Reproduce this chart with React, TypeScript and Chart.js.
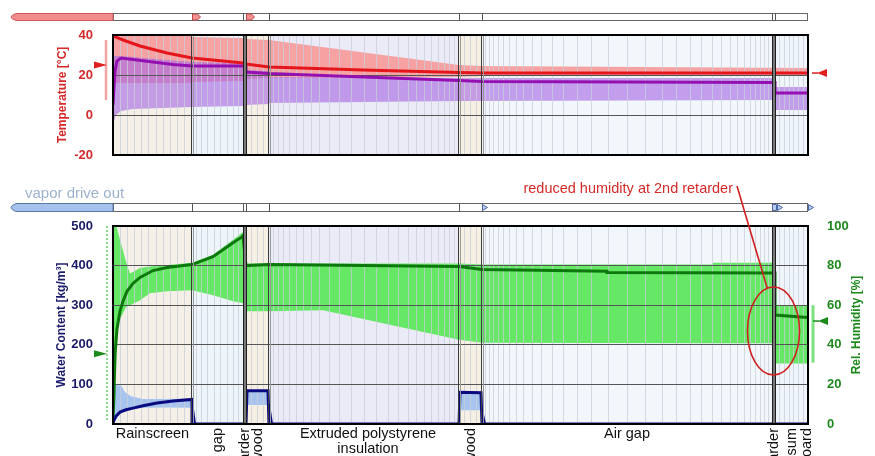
import React, { useEffect, useRef } from 'react';
import { Chart, registerables } from 'chart.js';

Chart.register(...registerables);

const FONT = 'Arial, "Liberation Sans", Helvetica, sans-serif';

// ---------- wall layers (x = position through the wall) ----------
const layerNames = ['Rainscreen', 'Air gap', 'retarder', 'plywood', 'Extruded polystyrene insulation', 'plywood', 'Air gap', 'retarder', 'Gypsum board'];
const layerEdges = [0, 79, 130, 133, 156, 346, 369, 659, 662, 695];
const layerFills = ['#f4f0e8', '#eef5fa', '#707070', '#f6f0e4', '#ebebf7', '#f6f0e4', '#f1f7fb', '#707070', '#eff5fa'];
const layerLabelLines = [['Rainscreen'], ['Air gap'], ['retarder'], ['plywood'], ['Extruded polystyrene', 'insulation'], ['plywood'], ['Air gap'], ['retarder'], ['Gypsum', 'board']];
const layerLabelRotated = [false, true, true, true, false, true, false, true, true];
const meshCounts = [11, 9, 1, 4, 24, 4, 32, 1, 7];
const meshRatios = [1, 1.1, 1, 1, 1.1, 1, 1.12, 1, 1];

// ---------- temperature plot ----------
const tempTicks = [-20, 40, 20];
const tempLineX = [0, 10, 27, 54, 79, 105, 130, 133, 156, 250, 346, 369, 500, 659, 662, 695];
const tempLine = [39.5, 37.5, 34.5, 31, 28.5, 27.2, 26, 25.5, 24, 22.5, 21.2, 21, 21, 21, 21, 21];
const tempRangeX = [0, 79, 79, 130, 133, 156, 346, 369, 695];
const tempRangeHigh = [40, 40, 39, 38.5, 38, 37.5, 25, 24.5, 23.5];
const tempRangeLow = [16, 16, 16.5, 17, 18, 18.5, 19, 19.5, 19.5];
const dewRangeX = [0, 1, 3, 8, 20, 79, 130, 133, 156, 156, 346, 369, 662, 662, 695];
const dewRangeHigh = [29.5, 29.5, 29.5, 29.5, 29, 26.5, 26, 22.5, 22, 19, 18.5, 18.5, 18.5, 14, 14];
const dewRangeLow = [-6, -3, 0, 2, 3, 4, 4.5, 5, 5.5, 6, 7, 7, 7.5, 2.5, 2.5];
const dewLineX = [0, 1, 2, 4, 8, 20, 40, 60, 79, 130, 133, 133, 156, 346, 369, 659, 662, 662, 695];
const dewLine = [5, 14, 22, 27, 28.5, 27.8, 26.5, 25.2, 24.5, 24.5, 24.5, 21.5, 20.8, 17.2, 16.8, 16.2, 16.2, 11, 11];
const tempLeftRange = [37.5, 7.5];
const tempLeftMark = 25;
const tempRightMark = 21;

// ---------- moisture plot ----------
const wcTicks = [0, 500, 100];
const rhTicks = [0, 100, 20];
const wcLineX = [0, 1, 3, 7, 13, 20, 30, 44, 60, 79, 79, 80, 81.5, 133, 134, 155, 156, 157, 158.5, 346, 347, 368, 369, 370, 371.5, 695];
const wcLine = [2, 10, 20, 30, 36, 40, 46, 53, 58, 62, 0, 28, 0, 0, 84, 84, 0, 25, 0, 0, 80, 79, 0, 18, 0, 0];
const wcBandX = [0, 3, 8, 12, 18, 30, 79, 79, 133, 133, 156, 156, 346, 346, 369, 369, 695];
const wcBandHigh = [98, 98, 98, 80, 70, 63, 64, 0, 0, 84, 84, 0, 0, 80, 80, 0, 0];
const wcBandLow = [0, 10, 30, 35, 38, 41, 42, 0, 0, 48, 48, 0, 0, 35, 35, 0, 0];
const rhLineX = [0, 1, 2, 4, 7, 10, 14, 20, 27, 40, 54, 79, 100, 120, 129, 130, 133, 156, 346, 369, 494, 494, 659, 662, 662, 695];
const rhLine = [2, 15, 35, 48, 57, 62, 67, 71, 74, 77.5, 79, 80.5, 84.5, 91.5, 94.5, 95, 80, 80.5, 79.5, 78, 77.2, 76.5, 76.2, 76.2, 55, 53.8];
const rhBandX = [0, 3, 4, 6, 7, 13, 17, 27, 37, 54, 79, 100, 120, 130, 130, 156, 210, 346, 369, 600, 600, 662, 662, 695];
const rhBandHigh = [100, 100, 99, 95, 93, 82, 76, 78.8, 79.5, 80.3, 81.5, 85.5, 93, 97, 81, 81, 81, 81, 80.5, 80.5, 81.5, 81.5, 60, 60];
const rhBandLow = [25, 28, 45, 51, 53, 59, 60, 62.5, 66, 67, 67.5, 65, 62, 61, 57, 57, 57.5, 42.5, 41, 40.8, 40.8, 40.8, 30.6, 30.6];
const rhLeftRange = [100, 2];
const rhLeftMark = 35.5;
const rhRightRange = [60, 31];
const rhRightMark = 52;
const noteText = 'reduced humidity at 2nd retarder';
const noteX = 660.5;
const noteRH = 47;

// ---------- helpers ----------
const pts = (xs: number[], ys: number[]) => xs.map((x, i) => ({ x, y: ys[i] }));

function buildMesh(): number[] {
  const out: number[] = [];
  for (let i = 0; i < meshCounts.length; i++) {
    const a = layerEdges[i], b = layerEdges[i + 1], n = meshCounts[i], r = meshRatios[i];
    const w: number[] = [];
    for (let k = 0; k < n; k++) w.push(Math.pow(r, Math.min(k, n - 1 - k)));
    const s = w.reduce((p, q) => p + q, 0);
    let x = a;
    for (let k = 0; k < n - 1; k++) {
      x += ((b - a) * w[k]) / s;
      out.push(x);
    }
  }
  return out;
}
const meshTicks = buildMesh();

const px = (c: any, v: number) => c.scales.x.getPixelForValue(v);

function drawBackgrounds(chart: any) {
  const { ctx, chartArea: a } = chart;
  ctx.save();
  for (let i = 0; i < layerFills.length; i++) {
    const x0 = px(chart, layerEdges[i]);
    const x1 = px(chart, layerEdges[i + 1]);
    ctx.fillStyle = layerFills[i];
    ctx.fillRect(x0, a.top, x1 - x0, a.bottom - a.top);
  }
  ctx.restore();
}

function vline(ctx: any, x: number, y0: number, y1: number, color: string, w = 1) {
  ctx.strokeStyle = color;
  ctx.lineWidth = w;
  ctx.beginPath();
  ctx.moveTo(x, y0);
  ctx.lineTo(x, y1);
  ctx.stroke();
}

function drawFrame(chart: any) {
  const { ctx, chartArea: a } = chart;
  ctx.save();
  const isRet = (i: number) => layerNames[i] === 'retarder';
  for (let i = 1; i < layerEdges.length - 1; i++) {
    if (isRet(i - 1) || isRet(i)) continue;
    const x = Math.round(px(chart, layerEdges[i]));
    vline(ctx, x - 0.5, a.top, a.bottom, '#3c3c3c');
    vline(ctx, x + 1.5, a.top, a.bottom, '#9a9a9a');
  }
  for (let i = 0; i < layerNames.length; i++) {
    if (!isRet(i)) continue;
    const x0 = Math.round(px(chart, layerEdges[i]));
    const x1 = Math.round(px(chart, layerEdges[i + 1]));
    ctx.fillStyle = '#6a6a6a';
    ctx.fillRect(x0, a.top, x1 - x0 + 1, a.bottom - a.top);
    vline(ctx, x0 + 0.5, a.top, a.bottom, '#1e1e1e');
    vline(ctx, x1 + 0.5, a.top, a.bottom, '#1e1e1e');
    vline(ctx, (x0 + x1) / 2 + 0.5, a.top, a.bottom, '#8a8a8a');
  }
  ctx.strokeStyle = '#000';
  ctx.lineWidth = 2;
  ctx.strokeRect(a.left, a.top, a.right - a.left, a.bottom - a.top);
  ctx.restore();
}

function drawStrip(chart: any, top: number, h: number, barFill: string, barStroke: string, markers: { edge: number; kind: string }[], markFill: string, markStroke: string) {
  const { ctx, chartArea: a } = chart;
  ctx.save();
  ctx.fillStyle = '#fff';
  ctx.fillRect(a.left, top, a.right - a.left, h);
  ctx.strokeStyle = '#666';
  ctx.lineWidth = 1;
  ctx.strokeRect(a.left + 0.5, top + 0.5, a.right - a.left - 1, h - 1);
  for (let i = 1; i < layerEdges.length - 1; i++) {
    const x = Math.round(px(chart, layerEdges[i])) + 0.5;
    vline(ctx, x, top, top + h, '#555');
  }
  // left bar
  ctx.beginPath();
  ctx.moveTo(a.left, top + 0.5);
  ctx.lineTo(16, top + 0.5);
  ctx.quadraticCurveTo(6, top + h / 2, 16, top + h - 0.5);
  ctx.lineTo(a.left, top + h - 0.5);
  ctx.closePath();
  ctx.fillStyle = barFill;
  ctx.fill();
  ctx.strokeStyle = barStroke;
  ctx.stroke();
  for (const m of markers) {
    const x = Math.round(px(chart, layerEdges[m.edge])) + 0.5;
    ctx.beginPath();
    if (m.kind === 'pent') {
      ctx.moveTo(x, top + 1);
      ctx.lineTo(x + 5, top + 1);
      ctx.lineTo(x + 8, top + h / 2);
      ctx.lineTo(x + 5, top + h - 1);
      ctx.lineTo(x, top + h - 1);
    } else if (m.kind === 'tri') {
      ctx.moveTo(x, top + 1.5);
      ctx.lineTo(x + 5, top + h / 2);
      ctx.lineTo(x, top + h - 1.5);
    } else {
      ctx.moveTo(x, top + 1.5);
      ctx.lineTo(x + 4, top + 1.5);
      ctx.lineTo(x + 4, top + h - 1.5);
      ctx.lineTo(x, top + h - 1.5);
      ctx.closePath();
      ctx.moveTo(x + 5, top + 1.5);
      ctx.lineTo(x + 10, top + h / 2);
      ctx.lineTo(x + 5, top + h - 1.5);
    }
    ctx.closePath();
    ctx.fillStyle = markFill;
    ctx.fill();
    ctx.strokeStyle = markStroke;
    ctx.stroke();
  }
  ctx.restore();
}

function rotText(ctx: any, text: string, x: number, y: number, align: string) {
  ctx.save();
  ctx.translate(x, y);
  ctx.rotate(-Math.PI / 2);
  ctx.textAlign = align;
  ctx.textBaseline = 'middle';
  ctx.fillText(text, 0, 0);
  ctx.restore();
}

function arrowRight(ctx: any, tip: number, y: number, color: string) {
  ctx.fillStyle = color;
  ctx.beginPath();
  ctx.moveTo(tip, y);
  ctx.lineTo(tip - 13, y - 3.5);
  ctx.lineTo(tip - 13, y + 3.5);
  ctx.closePath();
  ctx.fill();
}

function arrowLeft(ctx: any, x: number, y: number, color: string) {
  ctx.strokeStyle = color;
  ctx.lineWidth = 1.5;
  ctx.beginPath();
  ctx.moveTo(x, y);
  ctx.lineTo(x + 6, y);
  ctx.stroke();
  ctx.fillStyle = color;
  ctx.beginPath();
  ctx.moveTo(x + 5, y);
  ctx.lineTo(x + 15, y - 4);
  ctx.lineTo(x + 15, y + 4);
  ctx.closePath();
  ctx.fill();
}

function gridBeforeLines(chart: any, args: any) {
  const ds = chart.data.datasets[args.index];
  if (ds && ds.gridBefore) {
    chart.scales.x.drawGrid(chart.chartArea);
    chart.scales.y.drawGrid(chart.chartArea);
  }
}

const topPlugin = {
  id: 'wallTop',
  beforeDatasetsDraw: drawBackgrounds,
  beforeDatasetDraw: gridBeforeLines,
  afterDraw(chart: any) {
    const { ctx, chartArea: a } = chart;
    drawFrame(chart);
    drawStrip(chart, 13, 8, '#f28b8b', '#d05a5a', [{ edge: 1, kind: 'pent' }, { edge: 3, kind: 'pent' }], '#f39090', '#c04848');
    const y = chart.scales.y;
    ctx.save();
    ctx.fillStyle = '#d42a2a';
    ctx.font = `bold 12px ${FONT}`;
    rotText(ctx, 'Temperature [°C]', 63, (a.top + a.bottom) / 2, 'center');
    ctx.strokeStyle = '#f4a2a2';
    ctx.lineWidth = 2.5;
    ctx.beginPath();
    ctx.moveTo(a.left - 7, y.getPixelForValue(tempLeftRange[0]));
    ctx.lineTo(a.left - 7, y.getPixelForValue(tempLeftRange[1]));
    ctx.stroke();
    arrowRight(ctx, a.left - 6, y.getPixelForValue(tempLeftMark), '#e02020');
    arrowLeft(ctx, a.right + 4, y.getPixelForValue(tempRightMark), '#e02020');
    ctx.restore();
  },
};

const bottomPlugin = {
  id: 'wallBottom',
  beforeDatasetsDraw: drawBackgrounds,
  beforeDatasetDraw: gridBeforeLines,
  afterDraw(chart: any) {
    const { ctx, chartArea: a } = chart;
    drawFrame(chart);
    drawStrip(chart, 203, 9, '#a4c2ec', '#5a78a8', [{ edge: 6, kind: 'tri' }, { edge: 7, kind: 'dtri' }, { edge: 9, kind: 'tri' }], '#b8cdf0', '#4a68a8');
    const y1 = chart.scales.y1;
    ctx.save();
    // "vapor drive out"
    ctx.fillStyle = '#9db2ce';
    ctx.font = `15px ${FONT}`;
    ctx.textAlign = 'left';
    ctx.textBaseline = 'alphabetic';
    ctx.fillText('vapor drive out', 25, 198);
    // layer labels
    ctx.fillStyle = '#111';
    ctx.font = `14.5px ${FONT}`;
    for (let i = 0; i < layerLabelLines.length; i++) {
      const cx = (px(chart, layerEdges[i]) + px(chart, layerEdges[i + 1])) / 2;
      const lines = layerLabelLines[i];
      lines.forEach((t, j) => {
        if (layerLabelRotated[i]) {
          rotText(ctx, t, cx + 15 * j, a.bottom + 4, 'right');
        } else {
          ctx.textAlign = 'center';
          ctx.textBaseline = 'alphabetic';
          ctx.fillText(t, cx + 4 * (lines.length - 1), a.bottom + 14 + 15 * j);
        }
      });
    }
    // axis titles
    ctx.font = `bold 12px ${FONT}`;
    ctx.fillStyle = '#1c1c6c';
    rotText(ctx, 'Water Content [kg/m³]', 62, (a.top + a.bottom) / 2, 'center');
    ctx.fillStyle = '#1e8a1e';
    rotText(ctx, 'Rel. Humidity [%]', 857, (a.top + a.bottom) / 2, 'center');
    // indicators
    ctx.strokeStyle = '#86df86';
    ctx.lineWidth = 2;
    ctx.setLineDash([2, 2]);
    ctx.beginPath();
    ctx.moveTo(a.left - 6, y1.getPixelForValue(rhLeftRange[0]));
    ctx.lineTo(a.left - 6, y1.getPixelForValue(rhLeftRange[1]));
    ctx.stroke();
    ctx.setLineDash([]);
    arrowRight(ctx, a.left - 6, y1.getPixelForValue(rhLeftMark), '#1a8a1a');
    ctx.strokeStyle = '#7ee07e';
    ctx.lineWidth = 3;
    ctx.beginPath();
    ctx.moveTo(a.right + 5, y1.getPixelForValue(rhRightRange[0]));
    ctx.lineTo(a.right + 5, y1.getPixelForValue(rhRightRange[1]));
    ctx.stroke();
    arrowLeft(ctx, a.right + 5, y1.getPixelForValue(rhRightMark), '#1a8a1a');
    // annotation
    const cx = px(chart, noteX);
    const cy = y1.getPixelForValue(noteRH);
    ctx.strokeStyle = '#d02020';
    ctx.lineWidth = 1.6;
    ctx.beginPath();
    ctx.ellipse(cx, cy, 26, 44, 0, 0, Math.PI * 2);
    ctx.stroke();
    ctx.fillStyle = '#d42a2a';
    ctx.font = `14.5px ${FONT}`;
    ctx.textAlign = 'right';
    ctx.textBaseline = 'alphabetic';
    ctx.fillText(noteText, 733, 193);
    ctx.beginPath();
    ctx.moveTo(737, 186);
    ctx.lineTo(cx - 6, cy - 42);
    ctx.stroke();
    ctx.restore();
  },
};

const MESH_COLOR = 'rgba(200,205,218,0.75)';
const noLine = { borderWidth: 0, borderColor: 'transparent', pointRadius: 0 };

function xScale() {
  return {
    type: 'linear',
    min: layerEdges[0],
    max: layerEdges[layerEdges.length - 1],
    ticks: { display: false },
    grid: { color: MESH_COLOR, drawTicks: false },
    border: { display: false },
    afterBuildTicks: (s: any) => {
      s.ticks = meshTicks.map((v) => ({ value: v }));
    },
    afterFit: (s: any) => {
      s.height = 0;
    },
  };
}

function topConfig(): any {
  return {
    type: 'line',
    data: {
      datasets: [
        { data: pts(tempRangeX, tempRangeHigh), ...noLine, fill: false, order: 4 },
        { data: pts(tempRangeX, tempRangeLow), ...noLine, fill: '-1', backgroundColor: '#f7a2a2', order: 4 },
        { data: pts(dewRangeX, dewRangeHigh), ...noLine, fill: false, order: 3 },
        { data: pts(dewRangeX, dewRangeLow), ...noLine, fill: '-1', backgroundColor: 'rgba(166,104,228,0.62)', order: 3 },
        { data: pts(dewLineX, dewLine), borderColor: '#9410b0', borderWidth: 3, pointRadius: 0, fill: false, order: 2, gridBefore: true },
        { data: pts(tempLineX, tempLine), borderColor: '#e4161c', borderWidth: 3, pointRadius: 0, fill: false, order: 1 },
      ],
    },
    options: {
      responsive: false,
      animation: false,
      events: [],
      layout: { padding: { left: 53, right: 67, top: 35, bottom: 301 } },
      plugins: { legend: { display: false }, tooltip: { enabled: false } },
      scales: {
        x: xScale(),
        y: {
          min: tempTicks[0],
          max: tempTicks[1],
          ticks: { stepSize: tempTicks[2], color: '#d42a2a', font: { family: FONT, size: 13, weight: 'bold' }, padding: 20 },
          grid: { color: '#555', drawTicks: false },
          border: { display: false },
          afterFit: (s: any) => {
            s.width = 60;
          },
        },
      },
    },
    plugins: [topPlugin],
  };
}

function bottomConfig(): any {
  return {
    type: 'line',
    data: {
      datasets: [
        { data: pts(rhBandX, rhBandHigh), ...noLine, fill: false, order: 4, yAxisID: 'y1' },
        { data: pts(rhBandX, rhBandLow), ...noLine, fill: '-1', backgroundColor: '#66e866', order: 4, yAxisID: 'y1' },
        { data: pts(wcBandX, wcBandHigh), ...noLine, fill: false, order: 3, yAxisID: 'y' },
        { data: pts(wcBandX, wcBandLow), ...noLine, fill: '-1', backgroundColor: '#a6c4ee', order: 3, yAxisID: 'y' },
        { data: pts(rhLineX, rhLine), borderColor: '#0c780c', borderWidth: 3, pointRadius: 0, fill: false, order: 2, yAxisID: 'y1', gridBefore: true },
        { data: pts(wcLineX, wcLine), borderColor: '#0a0a80', borderWidth: 3, pointRadius: 0, fill: false, order: 1, yAxisID: 'y' },
      ],
    },
    options: {
      responsive: false,
      animation: false,
      events: [],
      layout: { padding: { left: 53, right: 7, top: 226, bottom: 32 } },
      plugins: { legend: { display: false }, tooltip: { enabled: false } },
      scales: {
        x: xScale(),
        y: {
          position: 'left',
          min: wcTicks[0],
          max: wcTicks[1],
          ticks: { stepSize: wcTicks[2], color: '#1a1a66', font: { family: FONT, size: 13, weight: 'bold' }, padding: 20 },
          grid: { color: '#555', drawTicks: false },
          border: { display: false },
          afterFit: (s: any) => {
            s.width = 60;
          },
        },
        y1: {
          position: 'right',
          min: rhTicks[0],
          max: rhTicks[1],
          ticks: { stepSize: rhTicks[2], color: '#1e8a1e', font: { family: FONT, size: 13, weight: 'bold' }, padding: 19 },
          grid: { display: false, drawTicks: false },
          border: { display: false },
          afterFit: (s: any) => {
            s.width = 60;
          },
        },
      },
    },
    plugins: [bottomPlugin],
  };
}

export default function App() {
  const topRef = useRef<HTMLCanvasElement>(null);
  const botRef = useRef<HTMLCanvasElement>(null);
  useEffect(() => {
    const bottom = new Chart(botRef.current as HTMLCanvasElement, bottomConfig());
    const top = new Chart(topRef.current as HTMLCanvasElement, topConfig());
    return () => {
      top.destroy();
      bottom.destroy();
    };
  }, []);
  return (
    <div style={{ position: 'absolute', left: 0, top: 0, width: 875, height: 456, background: '#fff', overflow: 'hidden' }}>
      <canvas ref={botRef} width={875} height={456} style={{ position: 'absolute', left: 0, top: 0 }} />
      <canvas ref={topRef} width={875} height={456} style={{ position: 'absolute', left: 0, top: 0 }} />
    </div>
  );
}
